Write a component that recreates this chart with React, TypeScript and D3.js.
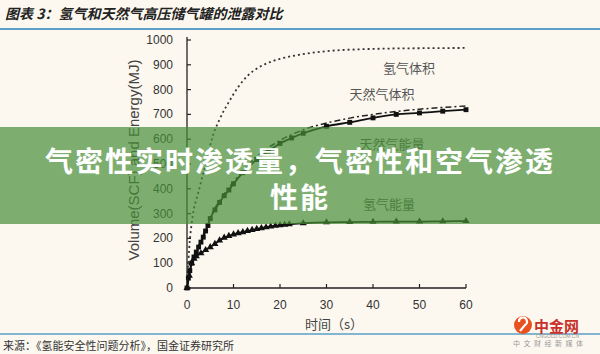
import React from 'react';
import * as d3 from 'd3';

// time (s) / value pairs
const h2Volume: [number, number][] = [
  [0, 0], [0.3, 110], [0.6, 190], [1, 260], [1.5, 320], [2.2, 368], [3.3, 449], [4.4, 530],
  [5.5, 610], [7, 680], [9, 750], [11, 810], [13, 855], [15.5, 890], [18, 912], [20, 924],
  [24, 940], [28, 951], [32, 958], [38, 963], [45, 966], [52, 967], [60, 968],
];
const gasVolume: [number, number][] = [
  [0, 0], [1, 105], [2, 150], [3, 192], [4, 238], [5, 285], [7, 352], [10, 428], [15, 530],
  [20, 595], [25, 638], [30, 665], [35, 685], [40, 700], [45, 712], [50, 721], [55, 728], [60, 734],
];
const gasEnergy: [number, number][] = [
  [0, 0], [0.3, 40], [0.6, 70], [1, 100], [1.5, 125], [2, 145], [2.5, 165], [3, 185], [3.5, 205],
  [4, 230], [4.5, 252], [5, 280], [6, 315], [7, 345], [8, 372], [9, 395], [10, 420], [12, 465],
  [15, 518], [17.5, 552], [20, 583], [22.5, 605], [25, 624], [30, 652], [35, 668], [40, 686],
  [45, 700], [50, 706], [55, 713], [60, 719],
];
const h2Energy: [number, number][] = [
  [0, 0], [0.5, 50], [1, 100], [1.5, 118], [2, 128], [3, 140], [4, 153], [5, 165], [6, 178],
  [7, 192], [8, 203], [9, 210], [10, 216], [11, 221], [12, 225], [13, 230], [14, 234], [15, 238],
  [16, 241], [17, 245], [18, 248], [19, 251], [20, 253], [21, 255], [22, 257], [25, 261], [30, 265],
  [35, 266], [40, 267], [45, 268], [50, 268], [55, 269], [60, 270],
];

const xTicks = [0, 10, 20, 30, 40, 50, 60];
const yTicks = [0, 100, 200, 300, 400, 500, 600, 700, 800, 900, 1000];
const seriesLabels = ['氢气体积', '天然气体积', '天然气能量', '氢气能量'];

const title = '图表 3：氢气和天然气高压储气罐的泄露对比';
const source = '来源：《氢能安全性问题分析》，国金证券研究所';
const bannerLines = ['气密性实时渗透量，气密性和空气渗透', '性能'];

const W = 600;
const H = 354;

export default function App() {
  const x = d3.scaleLinear().domain([0, 60]).range([187, 466]);
  const y = d3.scaleLinear().domain([0, 1000]).range([288, 40]);

  const line = d3.line<[number, number]>()
    .x(d => x(d[0]))
    .y(d => y(d[1]))
    .curve(d3.curveMonotoneX);

  const tri = d3.symbol().type(d3.symbolTriangle).size(22)();
  const sq = d3.symbol().type(d3.symbolSquare).size(24)();

  const axisFont = '"Liberation Sans", Arial, sans-serif';
  const cjk = '"Noto Sans CJK SC", sans-serif';

  return (
    <div style={{ position: 'absolute', left: 0, top: 0 }}>
      <svg width={W} height={H} style={{ display: 'block', background: '#fcf8ef' }}>
        {/* header */}
        <text x={5} y={19} fontFamily={cjk} fontSize={14} fontWeight="bold" fontStyle="italic" fill="#222">
          {title}
        </text>
        <line x1={0} x2={W} y1={29} y2={29} stroke="#5a9fc6" strokeWidth={2} />

        {/* axes */}
        <line x1={x(0)} x2={x(0)} y1={y(1000) - 3} y2={y(0)} stroke="#222" strokeWidth={1.3} />
        <line x1={x(0)} x2={x(60)} y1={y(0)} y2={y(0)} stroke="#222" strokeWidth={1.3} />
        {yTicks.map(t => (
          <g key={'y' + t}>
            <line x1={x(0)} x2={x(0) + 4} y1={y(t)} y2={y(t)} stroke="#222" strokeWidth={1.2} />
            <text x={173} y={y(t)} textAnchor="end" dominantBaseline="central" fontFamily={axisFont} fontSize={12} fill="#333">
              {t}
            </text>
          </g>
        ))}
        {xTicks.map(t => (
          <g key={'x' + t}>
            {t > 0 && <line x1={x(t)} x2={x(t)} y1={y(0)} y2={y(0) - 4} stroke="#222" strokeWidth={1.2} />}
            <text x={x(t)} y={305} textAnchor="middle" dominantBaseline="central" fontFamily={axisFont} fontSize={12} fill="#333">
              {t}
            </text>
          </g>
        ))}
        <text transform="translate(133,160) rotate(-90)" textAnchor="middle" dominantBaseline="central"
          fontFamily={axisFont} fontSize={15} fill="#444">
          Volume(SCF) and Energy(MJ)
        </text>
        <text x={334} y={323} textAnchor="middle" dominantBaseline="central" fontFamily={cjk} fontSize={13} fill="#444">
          时间（s）
        </text>

        {/* curves */}
        <path d={line(h2Volume) || ''} fill="none" stroke="#333" strokeWidth={1.8} strokeDasharray="2,3" />
        <path d={line(gasVolume) || ''} fill="none" stroke="#222" strokeWidth={1.5} strokeDasharray="6,3,2,3" />
        <path d={line(gasEnergy) || ''} fill="none" stroke="#111" strokeWidth={1.8} />
        <path d={line(h2Energy) || ''} fill="none" stroke="#111" strokeWidth={1.8} />
        {gasEnergy.map((d, i) => (
          <path key={'s' + i} d={sq || ''} transform={`translate(${x(d[0])},${y(d[1])})`} fill="#111" />
        ))}
        {h2Energy.map((d, i) => (
          <path key={'t' + i} d={tri || ''} transform={`translate(${x(d[0])},${y(d[1])})`} fill="#111" />
        ))}

        {/* series labels */}
        <text x={409} y={67} textAnchor="middle" dominantBaseline="central" fontFamily={cjk} fontSize={13} fill="#555">{seriesLabels[0]}</text>
        <text x={382} y={93} textAnchor="middle" dominantBaseline="central" fontFamily={cjk} fontSize={13} fill="#555">{seriesLabels[1]}</text>
        <text x={392} y={143} textAnchor="middle" dominantBaseline="central" fontFamily={cjk} fontSize={13} fill="#555">{seriesLabels[2]}</text>
        <text x={389} y={203} textAnchor="middle" dominantBaseline="central" fontFamily={cjk} fontSize={13} fill="#555">{seriesLabels[3]}</text>

        {/* footer */}
        <line x1={0} x2={W} y1={334} y2={334} stroke="#5a9fc6" strokeWidth={1.5} />
        <text x={3} y={345} dominantBaseline="central" fontFamily={cjk} fontSize={11} fill="#333">{source}</text>

        {/* logo */}
        <circle cx={523} cy={325} r={9} fill="#e8501e" />
        <path d="M519,322 a4,4 0 1 1 6,3 l-5,6" fill="none" stroke="#fff" strokeWidth={2.2} />
        <text x={534} y={325} dominantBaseline="central" fontFamily={cjk} fontSize={15} fontWeight="bold" fill="#c9302c">中金网</text>
        <text x={536} y={336} dominantBaseline="central" fontFamily={axisFont} fontSize={5} fill="#999">CNGOLD.COM.CN</text>
        <text x={513} y={343} dominantBaseline="central" fontFamily={cjk} fontSize={7} fill="#999" letterSpacing={3.5}>中文财经新媒体</text>

        {/* overlay banner */}
        <rect x={0} y={127} width={W} height={97} fill="rgb(71,143,57)" opacity={0.7} />
        <text x={W / 2} y={160} textAnchor="middle" dominantBaseline="central" fontFamily={cjk} fontSize={28}
          fontWeight="bold" fill="#fff" letterSpacing={2}>{bannerLines[0]}</text>
        <text x={W / 2} y={196} textAnchor="middle" dominantBaseline="central" fontFamily={cjk} fontSize={28}
          fontWeight="bold" fill="#fff" letterSpacing={2}>{bannerLines[1]}</text>
      </svg>
    </div>
  );
}
